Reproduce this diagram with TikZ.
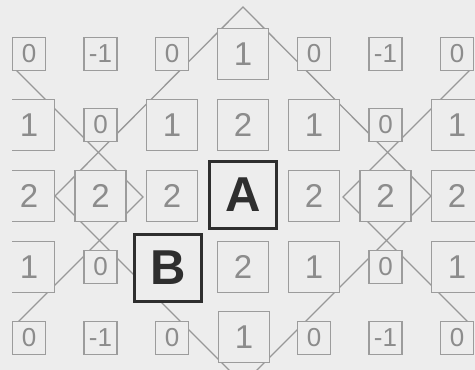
\documentclass[tikz,border=0pt]{standalone}
\usepackage{fontspec}
\setmainfont{Liberation Sans}
\definecolor{paper}{HTML}{EDEDED}
\definecolor{boxc}{HTML}{9C9C9C}
\definecolor{numc}{HTML}{8C8C8C}
\definecolor{linec}{HTML}{989898}
\definecolor{darkc}{HTML}{2E2E2E}
\tikzset{
  sbox/.style={draw=boxc, fill=paper, line width=1.2pt, minimum size=33pt, inner sep=0pt,
    text=numc, font=\fontsize{26}{26}\selectfont},
  mbox/.style={sbox, minimum size=51pt, font=\fontsize{33}{33}\selectfont},
  lbox/.style={draw=darkc, fill=paper, line width=2.6pt, minimum size=67pt, inner sep=0pt,
    text=darkc, font=\fontsize{49}{49}\selectfont\bfseries},
  diag/.style={draw=linec, line width=1.3pt},
}
\begin{document}
\begin{tikzpicture}[x=1pt,y=-1pt]
\fill[paper] (0,0) rectangle (475,370);
\useasboundingbox (0,0) rectangle (475,370);
\begin{scope}
\clip (12,0) rectangle (475,370);
% diagonal guide lines
\coordinate (T) at (243,7);
\coordinate (L) at (55,196);
\coordinate (Bt) at (243,384);
\coordinate (R) at (431,196);
\coordinate (ls) at (14,68);
\coordinate (lv) at (143,197);
\coordinate (le) at (14,326);
\coordinate (rs) at (472,68);
\coordinate (rv) at (343,197);
\coordinate (re) at (472,326);
\draw[diag] (T) -- (L) -- (Bt) -- (R) -- cycle;
\draw[diag] (ls) -- (lv) -- (le);
\draw[diag] (rs) -- (rv) -- (re);
% row 1
\node[sbox] (a1) at (29,54) {0};
\node[sbox] (a2) at (100.5,54) {-1};
\node[sbox] (a3) at (172,54) {0};
\node[mbox] (a4) at (243,54) {1};
\node[sbox] (a5) at (314,54) {0};
\node[sbox] (a6) at (385.5,54) {-1};
\node[sbox] (a7) at (457,54) {0};
% row 2
\node[mbox] (b1) at (29,125) {1};
\node[sbox] (b2) at (100.5,125) {0};
\node[mbox] (b3) at (172,125) {1};
\node[mbox] (b4) at (243,125) {2};
\node[mbox] (b5) at (314,125) {1};
\node[sbox] (b6) at (385.5,125) {0};
\node[mbox] (b7) at (457,125) {1};
% row 3
\node[mbox] (c1) at (29,196) {2};
\node[mbox] (c2) at (100.5,196) {2};
\node[mbox] (c3) at (172,196) {2};
\node[lbox] (A) at (243,195) {A};
\node[mbox] (c5) at (314,196) {2};
\node[mbox] (c6) at (385.5,196) {2};
\node[mbox] (c7) at (457,196) {2};
% row 4
\node[mbox] (d1) at (29,267) {1};
\node[sbox] (d2) at (100.5,267) {0};
\node[lbox] (B) at (168,268) {B};
\node[mbox] (d4) at (243,267) {2};
\node[mbox] (d5) at (314,267) {1};
\node[sbox] (d6) at (385.5,267) {0};
\node[mbox] (d7) at (457,267) {1};
% row 5
\node[sbox] (e1) at (29,338) {0};
\node[sbox] (e2) at (100.5,338) {-1};
\node[sbox] (e3) at (172,338) {0};
\node[mbox] (e4) at (244,337) {1};
\node[sbox] (e5) at (314,338) {0};
\node[sbox] (e6) at (385.5,338) {-1};
\node[sbox] (e7) at (457,338) {0};
\end{scope}
\end{tikzpicture}
\end{document}
